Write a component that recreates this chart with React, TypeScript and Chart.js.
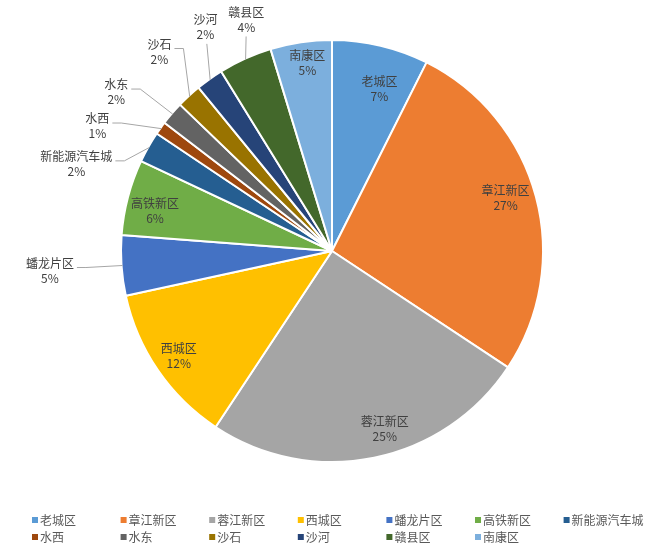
import React, { useEffect, useRef } from "react";
import { Chart, registerables } from "chart.js";

Chart.register(...registerables);

const categories = [
  "老城区", "章江新区", "蓉江新区", "西城区", "蟠龙片区", "高铁新区",
  "新能源汽车城", "水西", "水东", "沙石", "沙河", "赣县区", "南康区",
];
const shares = [7.4, 26.9, 25.0, 12.3, 4.6, 5.8, 2.4, 1.0, 1.8, 1.9, 2.1, 4.1, 4.7];
const colors = [
  "#5B9BD5", "#ED7D31", "#A5A5A5", "#FFC000", "#4472C4", "#70AD47",
  "#255E91", "#9E480E", "#636363", "#997300", "#264478", "#43682B", "#7CAFDD",
];
// label layout: outside flag, angle shift (deg) from slice middle, radius factor
const outside = [false, false, false, false, true, false, true, true, true, true, true, true, false];
const labelShift = [3, -2, -5, 0, 0, -2, -10.7, -7.6, -4.3, 1.8, 6, 4, 1];
const labelRadius = [0.8, 0.86, 0.88, 0.88, 1.34, 0.86, 1.28, 1.26, 1.27, 1.25, 1.22, 1.17, 0.9];

const FONT = '"Noto Sans CJK SC", "Noto Sans", sans-serif';

const labelPlugin = {
  id: "sliceLabels",
  afterDatasetsDraw(chart: any) {
    const ctx = chart.ctx as CanvasRenderingContext2D;
    const meta = chart.getDatasetMeta(0);
    const total = shares.reduce((a, b) => a + b, 0);
    ctx.save();
    ctx.font = `12px ${FONT}`;
    ctx.textAlign = "center";
    ctx.textBaseline = "middle";
    meta.data.forEach((arc: any, i: number) => {
      const { x, y, startAngle, endAngle, outerRadius } = arc.getProps(
        ["x", "y", "startAngle", "endAngle", "outerRadius"], true
      );
      const mid = (startAngle + endAngle) / 2;
      const a = mid + (labelShift[i] * Math.PI) / 180;
      const r = outerRadius * labelRadius[i];
      const cx = x + Math.cos(a) * r;
      const cy = y + Math.sin(a) * r;
      const name = categories[i];
      const pct = Math.round((shares[i] / total) * 100) + "%";
      const w = Math.max(ctx.measureText(name).width, ctx.measureText(pct).width);
      if (outside[i]) {
        const px = x + Math.cos(mid) * (outerRadius - 1);
        const py = y + Math.sin(mid) * (outerRadius - 1);
        ctx.strokeStyle = "#A6A6A6";
        ctx.lineWidth = 1;
        ctx.beginPath();
        if (px > cx - w / 2 && px < cx + w / 2) {
          ctx.moveTo(px, py);
          ctx.lineTo(cx + (px - cx) * 0.3, cy + 17);
        } else {
          const ex = cx + w / 2 + 3;
          const ey = cy - 3;
          ctx.moveTo(px, py);
          ctx.lineTo(ex + 9, ey);
          ctx.lineTo(ex, ey);
        }
        ctx.stroke();
      }
      ctx.fillStyle = "#404040";
      ctx.fillText(name, cx, cy - 7.5);
      ctx.fillText(pct, cx, cy + 7.5);
    });
    ctx.restore();
  },
};

const legendPlugin = {
  id: "gridLegend",
  afterDraw(chart: any) {
    const ctx = chart.ctx as CanvasRenderingContext2D;
    ctx.save();
    ctx.font = `12px ${FONT}`;
    ctx.textAlign = "left";
    ctx.textBaseline = "middle";
    const perRow = 7;
    categories.forEach((name, i) => {
      const col = i % perRow;
      const row = Math.floor(i / perRow);
      const bx = 32 + col * 88.6;
      const by = 520 + row * 17;
      ctx.fillStyle = colors[i];
      ctx.fillRect(bx, by - 3, 6, 6);
      ctx.fillStyle = "#595959";
      ctx.fillText(name, bx + 8, by);
    });
    ctx.restore();
  },
};

export default function App() {
  const ref = useRef<HTMLCanvasElement>(null);
  useEffect(() => {
    document.body.style.margin = "0";
    const chart = new Chart(ref.current!, {
      type: "pie",
      data: {
        labels: categories,
        datasets: [
          {
            data: shares,
            backgroundColor: colors,
            borderColor: "#ffffff",
            borderWidth: 2,
          },
        ],
      },
      options: {
        responsive: false,
        animation: false,
        layout: { padding: { left: 120, right: 112, top: 39, bottom: 89 } },
        plugins: {
          legend: { display: false },
          tooltip: { enabled: false },
        },
      },
      plugins: [labelPlugin, legendPlugin],
    });
    return () => chart.destroy();
  }, []);
  return (
    <div style={{ width: 656, height: 552, background: "#fff" }}>
      <canvas ref={ref} width={656} height={552} style={{ display: "block" }} />
    </div>
  );
}
